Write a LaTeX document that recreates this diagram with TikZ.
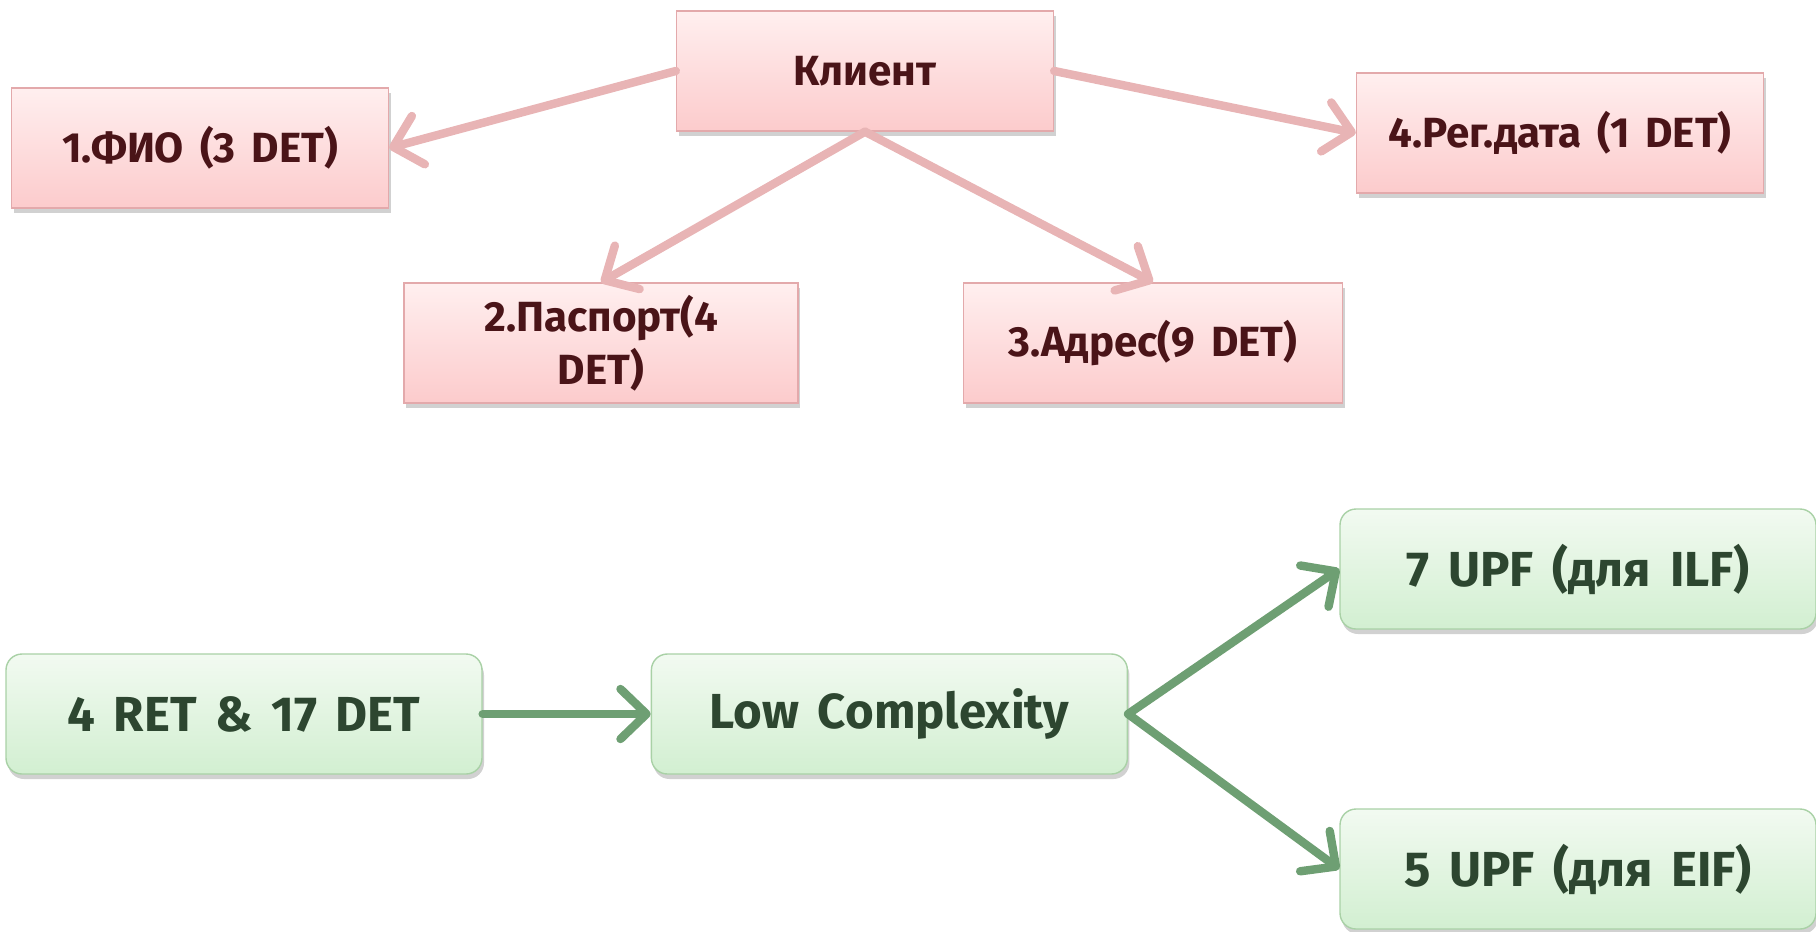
\documentclass[tikz,border=0pt]{standalone}
\usepackage{fontspec}
\setmainfont{Fira Sans}[WordSpace={1.6,0.5,0.3}]
\usetikzlibrary{positioning,arrows.meta,shadows}
\definecolor{pinkedge}{HTML}{E3A9AB}
\definecolor{pinktop}{HTML}{FFEFEF}
\definecolor{pinkbot}{HTML}{FCCBCC}
\definecolor{pinkarrow}{HTML}{E8B4B5}
\definecolor{pinktext}{HTML}{4A1418}
\definecolor{greenedge}{HTML}{A9D1A6}
\definecolor{greentop}{HTML}{F2FAF1}
\definecolor{greenbot}{HTML}{D2EFD1}
\definecolor{greenarrow}{HTML}{6E9F73}
\definecolor{greentext}{HTML}{2D4630}
\tikzset{
  entbox/.style={draw=pinkedge, top color=pinktop, bottom color=pinkbot,
              text=pinktext, align=center, minimum height=12mm,
              font=\bfseries\fontsize{12}{15}\selectfont,
              drop shadow={shadow xshift=0.2mm, shadow yshift=-0.5mm,
              opacity=0.3, fill=black!60}},
  cbox/.style={draw=greenedge, top color=greentop, bottom color=greenbot,
              rounded corners=1.6mm, text=greentext, align=center,
              minimum width=47.6mm, minimum height=12mm,
              font=\bfseries\fontsize{14}{16}\selectfont,
              drop shadow={shadow xshift=0.2mm, shadow yshift=-0.5mm,
              opacity=0.3, fill=black!60}},
  partarrow/.style={draw=pinkarrow, line width=2.4pt, line cap=round,
              -{Straight Barb[round, length=2.6mm, width=5mm]}},
  steparrow/.style={draw=greenarrow, line width=2.4pt, line cap=round,
              -{Straight Barb[round, length=2.6mm, width=5mm]}},
}
\begin{document}
\begin{tikzpicture}[x=0.1mm, y=-0.1mm]
\useasboundingbox (0,0) rectangle (1816,931);
% client and its parts
\node[entbox, minimum width=37.7mm] (client) at (865,71) {Клиент};
\node[entbox, minimum width=37.7mm] (fio) at (200,148) {1.ФИО (3 DET)};
\node[entbox, minimum width=40.7mm] (regdate) at (1560,133) {4.Рег.дата (1 DET)};
\node[entbox, minimum width=39.4mm] (passport) at (601,343) {2.Паспорт(4\\DET)};
\node[entbox, minimum width=37.9mm] (address) at (1153,343) {3.Адрес(9 DET)};
\draw[partarrow] (client.west) -- (fio.east);
\draw[partarrow] (client.east) -- (regdate.west);
\draw[partarrow] (client.south) -- (passport.north);
\draw[partarrow] (client.south) -- (address.north);
% complexity
\node[cbox] (ret) at (244,714) {4 RET \& 17 DET};
\node[cbox, right=16.8mm of ret] (low) {Low Complexity};
\node[cbox] (ilf) at (1578,569) {7 UPF (для ILF)};
\node[cbox] (eif) at (1578,869) {5 UPF (для EIF)};
\draw[steparrow] (ret) -- (low);
\draw[steparrow] (low.east) -- (ilf.west);
\draw[steparrow] (low.east) -- (eif.west);
\end{tikzpicture}
\end{document}
